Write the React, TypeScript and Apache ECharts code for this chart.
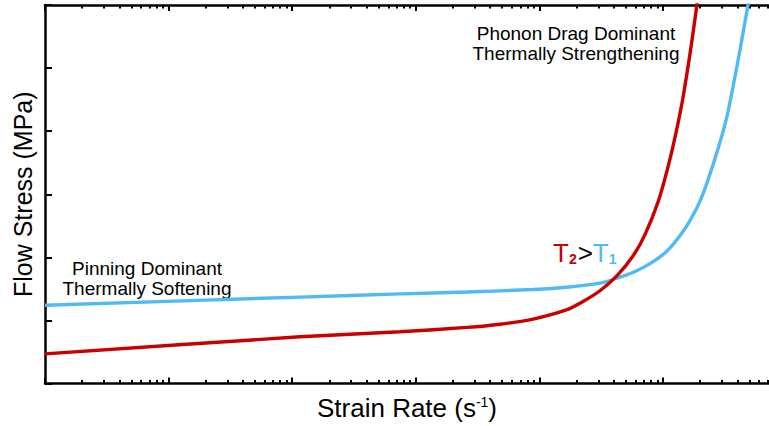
import React, { useEffect, useRef } from "react";
import * as echarts from "echarts";

// Strain rate (s^-1) sample positions and flow stress (arbitrary units 0..6)
const blueRate = [1, 115.6, 744.7, 2594, 8872, 16710, 30900, 42460, 57150, 78520, 107700, 145200, 175000, 199100, 227000, 278600, 329600, 368100, 419800, 478600, 505800];
const blueStress = [1.24, 1.37, 1.42, 1.45, 1.49, 1.525, 1.59, 1.67, 1.76, 1.9, 2.1, 2.41, 2.67, 2.89, 3.18, 3.72, 4.24, 4.7, 5.29, 5.92, 6.2];
const redRate = [1, 115.6, 744.7, 2594, 4797, 8872, 16710, 22540, 30900, 42460, 57150, 71450, 91200, 107700, 125000, 142600, 156300, 171800, 184900, 199100];
const redStress = [0.47, 0.74, 0.82, 0.89, 0.94, 1.02, 1.17, 1.3, 1.47, 1.71, 2.02, 2.36, 2.88, 3.37, 3.9, 4.45, 4.92, 5.45, 5.9, 6.35];

const xMin = 1;
const xMax = 720000;
const decadeTicks = [1, 10, 100, 1000, 10000, 100000];
const minorMultipliers = [2, 3, 4, 5, 6, 7, 8, 9];
const yTicks = [0, 1, 2, 3, 4, 5, 6];

const FONT = '"Liberation Sans", Arial, Helvetica, sans-serif';
const BLUE = "#4FBAF5";
const RED = "#C80000";

export default function App() {
  const ref = useRef<HTMLDivElement>(null);
  useEffect(() => {
    if (!ref.current) return;
    const chart = echarts.init(ref.current, undefined, { renderer: "svg" });
    const minorTicks: number[] = [];
    decadeTicks.forEach((d) => minorMultipliers.forEach((m) => { if (m * d <= xMax) minorTicks.push(m * d); }));
    const pair = (xs: number[], ys: number[]) => xs.map((x, i) => [x, ys[i]]);
    const baseX = (position: "bottom" | "top", ticks: number[], len: number, showLine: boolean, extra: any = {}) => ({
      type: "log",
      logBase: 10,
      min: xMin,
      max: xMax,
      position,
      axisLine: { show: showLine, onZero: false, lineStyle: { color: "#000", width: 2.5 } },
      axisTick: { show: true, inside: true, length: len, customValues: ticks, lineStyle: { color: "#000", width: 2 } },
      axisLabel: { show: false },
      splitLine: { show: false },
      minorTick: { show: false },
      ...extra,
    });
    chart.setOption({
      animation: false,
      backgroundColor: "#fff",
      grid: { left: 45, right: 0, top: 5, bottom: 39, containLabel: false },
      xAxis: [
        baseX("bottom", decadeTicks, 6, true, {
          name: "{n|Strain Rate (s}{s|-1}{n|)}",
          nameLocation: "middle",
          nameGap: 11,
          nameTextStyle: {
            verticalAlign: "top",
            rich: {
              n: { fontSize: 26, fontFamily: FONT, color: "#000" },
              s: { fontSize: 14, fontFamily: FONT, color: "#000", verticalAlign: "top", padding: [0, 0, 13, 0] },
            },
          },
        }),
        baseX("bottom", minorTicks, 3.5, false),
        baseX("top", decadeTicks, 6, true),
        baseX("top", minorTicks, 3.5, false),
      ],
      yAxis: {
        type: "value",
        min: 0,
        max: 6,
        interval: 1,
        position: "left",
        axisLine: { show: true, onZero: false, lineStyle: { color: "#000", width: 2.5 } },
        axisTick: { show: true, inside: true, length: 7, customValues: yTicks, lineStyle: { color: "#000", width: 2 } },
        axisLabel: { show: false },
        splitLine: { show: false },
        name: "Flow Stress (MPa)",
        nameLocation: "middle",
        nameGap: 10,
        nameTextStyle: { fontSize: 25, fontFamily: FONT, color: "#000" },
      },
      series: [
        {
          type: "line",
          name: "T1",
          data: pair(blueRate, blueStress),
          smooth: 0.25,
          showSymbol: false,
          clip: true,
          lineStyle: { color: BLUE, width: 3.4 },
          itemStyle: { color: BLUE },
        },
        {
          type: "line",
          name: "T2",
          data: pair(redRate, redStress),
          smooth: 0.25,
          showSymbol: false,
          clip: true,
          lineStyle: { color: RED, width: 3.4 },
          itemStyle: { color: RED },
        },
      ],
      graphic: [
        {
          type: "text",
          x: 147,
          y: 278,
          style: {
            text: "Pinning Dominant\nThermally Softening",
            font: `19px ${FONT}`,
            fill: "#000",
            align: "center",
            verticalAlign: "middle",
            lineHeight: 20,
          },
        },
        {
          type: "text",
          x: 576,
          y: 43,
          style: {
            text: "Phonon Drag Dominant\nThermally Strengthening",
            font: `19px ${FONT}`,
            fill: "#000",
            align: "center",
            verticalAlign: "middle",
            lineHeight: 20,
          },
        },
        {
          type: "text",
          x: 553,
          y: 253,
          style: {
            text: "{r|T}{rs|2}{k|>}{b|T}{bs|1}",
            verticalAlign: "middle",
            rich: {
              r: { fontSize: 26, fontFamily: FONT, fill: RED },
              rs: { fontSize: 14, fontFamily: FONT, fontWeight: "bold", fill: RED, verticalAlign: "bottom", padding: [8, 1, 0, 0] },
              k: { fontSize: 26, fontFamily: FONT, fill: "#000" },
              b: { fontSize: 26, fontFamily: FONT, fill: BLUE },
              bs: { fontSize: 14, fontFamily: FONT, fontWeight: "bold", fill: BLUE, verticalAlign: "bottom", padding: [8, 0, 0, 0] },
            },
          },
        },
      ],
    });
    return () => chart.dispose();
  }, []);
  return <div ref={ref} style={{ width: 769, height: 426, position: "absolute", left: 0, top: 0 }} />;
}
